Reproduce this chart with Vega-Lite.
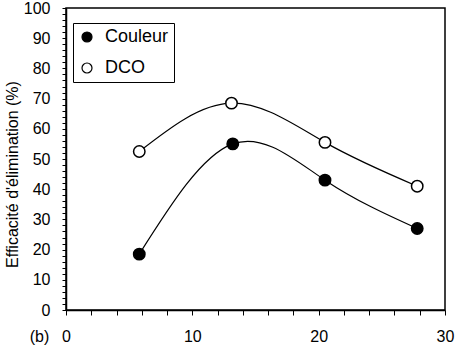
{
  "$schema": "https://vega.github.io/schema/vega-lite/v6.json",
  "width": 379,
  "height": 302,
  "autosize": {"type": "none"},
  "padding": {"left": 66, "top": 8, "right": 11, "bottom": 37},
  "background": "white",
  "config": {
    "view": {"stroke": "black", "strokeWidth": 1.5},
    "font": "Liberation Sans"
  },
  "data": {
    "values": [
      {"series": "Couleur", "t": 5.8, "eff": 18.5},
      {"series": "Couleur", "t": 13.2, "eff": 55},
      {"series": "Couleur", "t": 20.5, "eff": 43},
      {"series": "Couleur", "t": 27.8, "eff": 27},
      {"series": "DCO", "t": 5.8, "eff": 52.5},
      {"series": "DCO", "t": 13.1, "eff": 68.5},
      {"series": "DCO", "t": 20.5, "eff": 55.5},
      {"series": "DCO", "t": 27.8, "eff": 41}
    ]
  },
  "encoding": {
    "x": {
      "field": "t",
      "type": "quantitative",
      "scale": {"domain": [0, 30], "nice": false},
      "axis": {
        "values": [0, 2, 4, 6, 8, 10, 12, 14, 16, 18, 20, 22, 24, 26, 28, 30],
        "labelExpr": "datum.value % 10 === 0 ? datum.label : ''",
        "grid": false,
        "tickSize": 5,
        "tickColor": "black",
        "domainColor": "black",
        "domainWidth": 1.5,
        "labelFontSize": 16,
        "labelColor": "black",
        "labelPadding": 13,
        "labelFlush": false,
        "title": "(b)",
        "titleFontSize": 16,
        "titleFontWeight": "normal",
        "titleColor": "black",
        "titleX": -27,
        "titleY": 26,
        "titleAlign": "center",
        "titleBaseline": "middle"
      }
    },
    "y": {
      "field": "eff",
      "type": "quantitative",
      "scale": {"domain": [0, 100], "nice": false},
      "axis": {
        "values": [0, 2, 4, 6, 8, 10, 12, 14, 16, 18, 20, 22, 24, 26, 28, 30, 32, 34, 36, 38, 40, 42, 44, 46, 48, 50, 52, 54, 56, 58, 60, 62, 64, 66, 68, 70, 72, 74, 76, 78, 80, 82, 84, 86, 88, 90, 92, 94, 96, 98, 100],
        "labelExpr": "datum.value % 10 === 0 ? datum.label : ''",
        "grid": false,
        "tickSize": 4,
        "tickColor": "black",
        "domainColor": "black",
        "domainWidth": 1.5,
        "labelFontSize": 16,
        "labelColor": "black",
        "labelPadding": 12,
        "labelFlush": false,
        "title": "Efficacité d'élimination (%)",
        "titleFontSize": 16,
        "titleFontWeight": "normal",
        "titleColor": "black",
        "titleX": -54,
        "titleY": 166,
        "titleAngle": -90,
        "titleAlign": "center",
        "titleBaseline": "middle"
      }
    }
  },
  "layer": [
    {
      "mark": {"type": "line", "interpolate": "natural", "color": "black", "strokeWidth": 1.2},
      "encoding": {"detail": {"field": "series", "type": "nominal"}}
    },
    {
      "mark": {"type": "point", "shape": "circle", "size": 130, "filled": true, "stroke": "black", "strokeWidth": 1.5, "opacity": 1},
      "encoding": {
        "fill": {
          "field": "series",
          "type": "nominal",
          "scale": {"domain": ["Couleur", "DCO"], "range": ["black", "white"]},
          "legend": {
            "title": null,
            "orient": "none",
            "legendX": 7,
            "legendY": 15,
            "strokeColor": "black",
            "padding": 5,
            "symbolType": "circle",
            "symbolSize": 100,
            "symbolStrokeColor": "black",
            "symbolStrokeWidth": 1.2,
            "labelFontSize": 18,
            "labelColor": "black",
            "labelOffset": 9,
            "rowPadding": 13
          }
        }
      }
    }
  ]
}
